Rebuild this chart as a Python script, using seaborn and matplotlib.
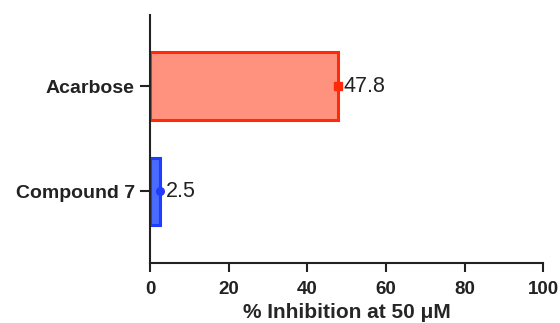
import numpy as np
import pandas as pd
import matplotlib
matplotlib.use("Agg")
import matplotlib.pyplot as plt
import seaborn as sns

compounds = ["Acarbose", "Compound 7"]
inhibition = [47.8, 2.5]
errors = [1.0, 0.5]
fill_colors = ["#FF917F", "#4A6BFF"]
edge_colors = ["#FF2A0A", "#1F3DFF"]
markers = ["s", "o"]
xticks = [0, 20, 40, 60, 80, 100]

sns.set_style("ticks")
plt.rcParams["font.family"] = ["Liberation Sans", "DejaVu Sans"]

df = pd.DataFrame({"compound": compounds, "inhibition": inhibition})

fig = plt.figure(figsize=(5.6, 3.23), dpi=100)
ax = fig.add_axes([0.268, 0.187, 0.702, 0.767])

sns.barplot(data=df, x="inhibition", y="compound", hue="compound",
            palette=fill_colors, saturation=1, orient="h", width=0.64,
            ax=ax, legend=False)

for patch, ec in zip(ax.patches, edge_colors):
    patch.set_edgecolor(ec)
    patch.set_linewidth(2.2)

for i, (val, err, ec, mk) in enumerate(zip(inhibition, errors, edge_colors, markers)):
    ax.errorbar(val, i, xerr=err, fmt=mk, color=ec, markersize=5.5,
                elinewidth=3, capsize=0)
    ax.text(val + 1.4, i, f"{val}", va="center", ha="left",
            fontsize=15.5, color="#222222")

ax.set_xlim(0, 100)
ax.set_ylim(1.676, -0.676)
ax.set_xticks(xticks)
ax.set_xlabel("% Inhibition at 50 \u03bcM", fontsize=15, fontweight="bold", labelpad=3)
ax.set_ylabel("")
ax.tick_params(axis="x", width=1.5, length=6.5, pad=7, labelsize=13.5, colors="#222222")
ax.tick_params(axis="y", width=1.5, length=7, pad=4, labelsize=14, colors="#222222")
for lab in ax.get_xticklabels() + ax.get_yticklabels():
    lab.set_fontweight("bold")

sns.despine(ax=ax)
for side in ["left", "bottom"]:
    ax.spines[side].set_linewidth(1.5)
    ax.spines[side].set_color("#222222")

fig.savefig("out.png", dpi=100)
